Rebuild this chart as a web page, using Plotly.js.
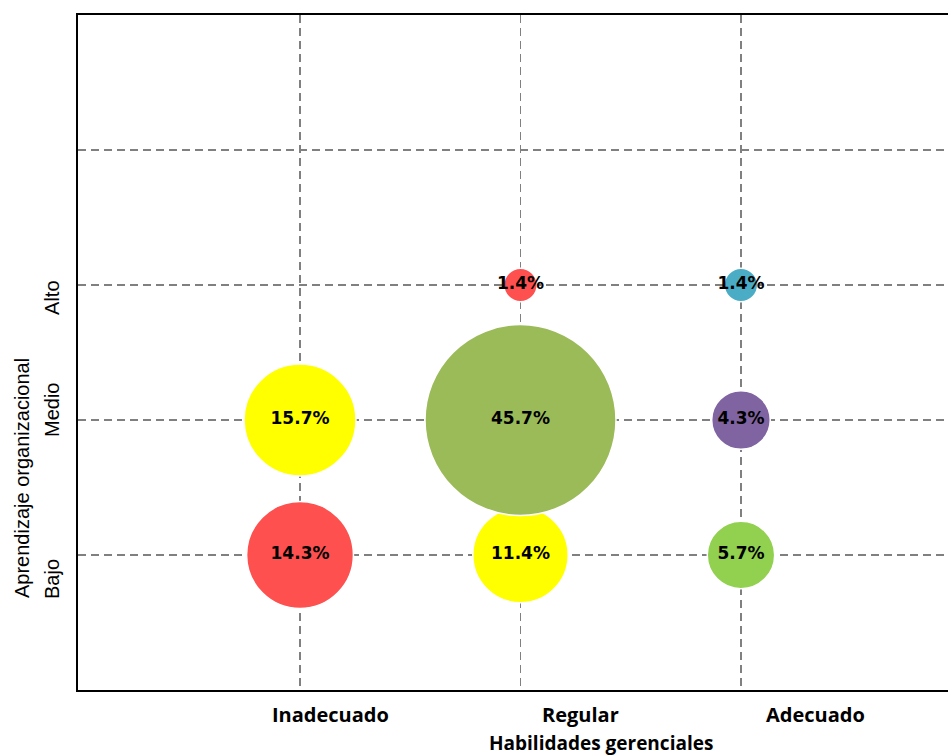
<!DOCTYPE html>
<html>
<head>
<meta charset="utf-8">
<script src="https://cdn.plot.ly/plotly-3.0.1.min.js"></script>
<style>html,body{margin:0;padding:0;background:#fff;}#chart{width:948px;height:756px;}</style>
</head>
<body>
<div id="chart"></div>
<script>
// Categories
const xCategories = ["Inadecuado", "Regular", "Adecuado"];
const yCategories = ["Bajo", "Medio", "Alto"];
// Bubble data
const bubbleX = ["Inadecuado", "Inadecuado", "Regular", "Regular", "Regular", "Adecuado", "Adecuado", "Adecuado"];
const bubbleY = ["Bajo", "Medio", "Bajo", "Medio", "Alto", "Bajo", "Medio", "Alto"];
const bubbleValues = [14.3, 15.7, 11.4, 45.7, 1.4, 5.7, 4.3, 1.4];
const bubbleColors = ["#FF5050", "#FFFF00", "#FFFF00", "#9BBB59", "#FF5050", "#92D050", "#8064A2", "#4BACC6"];
const xTitle = "Habilidades gerenciales";
const yTitle = "Aprendizaje organizacional";

const xPos = bubbleX.map(c => xCategories.indexOf(c) + 1);
const yPos = bubbleY.map(c => yCategories.indexOf(c) + 1);
const maxVal = Math.max(...bubbleValues);
const maxDiam = 191;

const trace = {
  type: "scatter",
  mode: "markers+text",
  x: xPos,
  y: yPos,
  text: bubbleValues.map(v => v.toFixed(1) + "%"),
  textposition: "middle center",
  textfont: {family: "DejaVu Sans", size: 17, color: "#000", weight: "bold"},
  marker: {
    size: bubbleValues,
    sizemode: "area",
    sizeref: 2 * maxVal / (maxDiam * maxDiam),
    color: bubbleColors,
    opacity: 1,
    line: {color: "#ffffff", width: 1.5}
  },
  hoverinfo: "none",
  cliponaxis: false
};

// label offsets (in the reference the labels sit off the grid lines)
const xLabelOffsets = [0.14, 0.27, 0.34];
const yLabelOffsets = [-0.178, 0.074, -0.096];

const annotations = [];
xCategories.forEach((c, i) => {
  annotations.push({
    text: c, xref: "x", yref: "paper", x: i + 1 + xLabelOffsets[i], y: -0.0356,
    xanchor: "center", yanchor: "middle", showarrow: false,
    font: {family: "Open Sans", size: 20, color: "#000", weight: "bold"}
  });
});
yCategories.forEach((c, i) => {
  annotations.push({
    text: c, xref: "paper", yref: "y", x: -0.0299, y: i + 1 + yLabelOffsets[i],
    xanchor: "center", yanchor: "middle", showarrow: false, textangle: -90,
    font: {family: "Liberation Sans", size: 20, color: "#000"}
  });
});
annotations.push({
  text: yTitle, xref: "paper", yref: "y", x: -0.0644, y: 1.57,
  xanchor: "center", yanchor: "middle", showarrow: false, textangle: -90,
  font: {family: "Liberation Sans", size: 20, color: "#000"}
});
annotations.push({
  text: xTitle, xref: "paper", yref: "paper", x: 0.601, y: -0.0563,
  xanchor: "center", yanchor: "top", showarrow: false,
  font: {family: "Open Sans", size: 19, color: "#000", weight: "bold"}
});

const layout = {
  width: 948,
  height: 756,
  margin: {l: 78, r: 0, t: 15, b: 66},
  paper_bgcolor: "#ffffff",
  plot_bgcolor: "#ffffff",
  showlegend: false,
  xaxis: {
    range: [-0.007, 3.939],
    tickvals: [1, 2, 3],
    showticklabels: false,
    ticks: "",
    showgrid: true,
    gridcolor: "#808080",
    gridwidth: 1.5,
    griddash: "8px,5px",
    zeroline: false,
    showline: true,
    linecolor: "#000",
    linewidth: 2,
    mirror: true,
    fixedrange: true
  },
  yaxis: {
    range: [0, 5],
    tickvals: [1, 2, 3, 4],
    showticklabels: false,
    ticks: "",
    showgrid: true,
    gridcolor: "#808080",
    gridwidth: 1.5,
    griddash: "8px,5px",
    zeroline: false,
    showline: true,
    linecolor: "#000",
    linewidth: 2,
    fixedrange: true
  },
  annotations: annotations
};

Plotly.newPlot("chart", [trace], layout, {displayModeBar: false, staticPlot: true});
</script>
</body>
</html>
